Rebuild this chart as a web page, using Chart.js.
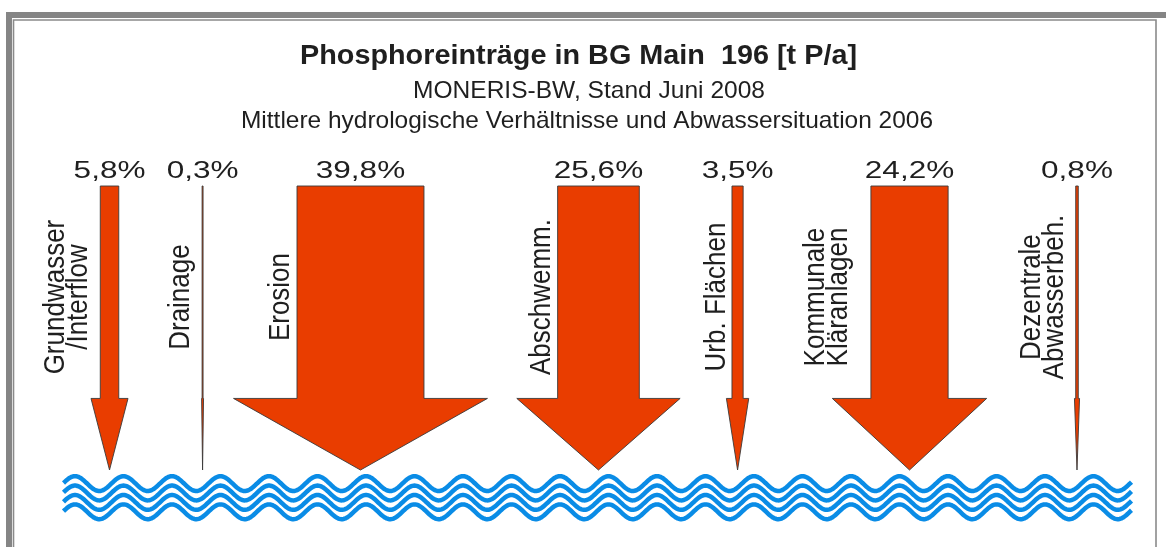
<!DOCTYPE html>
<html>
<head>
<meta charset="utf-8">
<script src="https://cdn.jsdelivr.net/npm/chart.js@4.4.1/dist/chart.umd.min.js"></script>
<style>
html,body{margin:0;padding:0;background:#fff;overflow:hidden}
#wrap{width:1166px;height:547px;position:relative}
</style>
</head>
<body>
<div id="wrap"><canvas id="c" width="1166" height="547"></canvas></div>
<script>
// ---------------- data ----------------
const categories = [
  ["Grundwasser", "/Interflow"],
  ["Drainage"],
  ["Erosion"],
  ["Abschwemm."],
  ["Urb. Flächen"],
  ["Kommunale", "Kläranlagen"],
  ["Dezentrale", "Abwasserbeh."]
];
const shares = [5.8, 0.3, 39.8, 25.6, 3.5, 24.2, 0.8];            // % of total P load
const shareLabels = ["5,8%", "0,3%", "39,8%", "25,6%", "3,5%", "24,2%", "0,8%"];
const titleText = "Phosphoreinträge in BG Main  196 [t P/a]";
const subtitleLines = [
  "MONERIS-BW, Stand Juni 2008",
  "Mittlere hydrologische Verhältnisse und Abwassersituation 2006"
];

// ---------------- layout (not data) ----------------
// x axis: 1 unit = width of 1 % share; arrow centres in those units
const arrowPos = [34.33, 63.5, 113.0, 187.6, 231.2, 285.1, 337.6];
const labelGap = [13.5, 13, 7.7, 7.7, 7.4, 24, 13];   // px between label baseline and shaft
const HEAD_START = 25.2;   // y units (0 = water, 100 = source)
const HEAD_FACTOR = 2;     // head width / shaft width
const FONT = '"Liberation Sans", Arial, Helvetica, sans-serif';
const TEXT = '#1f1f1f';
const ARROW_FILL = '#E93D00';
const ARROW_LINE = '#3a3a3a';
const WATER = '#0A8CE6';
const FRAME = '#858585';

function fitText(ctx, txt, x, y, width, font, align) {
  ctx.save();
  ctx.font = font;
  const w = ctx.measureText(txt).width;
  const sx = width / w;
  ctx.translate(x, y);
  ctx.scale(sx, 1);
  ctx.textAlign = align || 'left';
  ctx.textBaseline = 'alphabetic';
  ctx.fillText(txt, 0, 0);
  ctx.restore();
}

const framePlugin = {
  id: 'frame',
  beforeDraw(chart) {
    const ctx = chart.ctx;
    ctx.save();
    ctx.fillStyle = '#fff';
    ctx.fillRect(0, 0, chart.width, chart.height);
    ctx.fillStyle = FRAME;
    ctx.fillRect(6, 12, chart.width - 6, 6);
    ctx.fillRect(6, 12, 6, chart.height - 12);
    ctx.strokeStyle = '#8a8a8a';
    ctx.lineWidth = 1.6;
    ctx.beginPath();
    ctx.moveTo(13.5, chart.height);
    ctx.lineTo(13.5, 20);
    ctx.lineTo(1156, 20);
    ctx.lineTo(1156, chart.height);
    ctx.stroke();
    ctx.restore();
  }
};

const waterPlugin = {
  id: 'water',
  beforeDatasetsDraw(chart) {
    const ctx = chart.ctx, area = chart.chartArea;
    const x0 = 63.5, x1 = 1131.5, period = 48.5, peakX = 75, amp = 7.4, gap = 9.4;
    const mid = area.bottom + 13.6;
    ctx.save();
    ctx.strokeStyle = WATER;
    ctx.lineWidth = 4.5;
    ctx.lineCap = 'butt';
    for (let k = 0; k < 4; k++) {
      ctx.beginPath();
      for (let px = x0; px <= x1; px += 1) {
        const py = mid + k * gap - amp * Math.cos(2 * Math.PI * (px - peakX) / period);
        if (px === x0) ctx.moveTo(px, py); else ctx.lineTo(px, py);
      }
      ctx.stroke();
    }
    ctx.restore();
  }
};

const arrowPlugin = {
  id: 'arrows',
  afterDatasetsDraw(chart) {
    const ctx = chart.ctx;
    const xs = chart.scales.x, ys = chart.scales.y;
    const pts = chart.data.datasets[0].data;
    ctx.save();
    pts.forEach((p, i) => {
      const v = p.share, c = p.x;
      const xl = xs.getPixelForValue(c - v / 2), xr = xs.getPixelForValue(c + v / 2);
      const hl = xs.getPixelForValue(c - v * HEAD_FACTOR / 2), hr = xs.getPixelForValue(c + v * HEAD_FACTOR / 2);
      const xc = xs.getPixelForValue(c);
      const yt = ys.getPixelForValue(p.y), yh = ys.getPixelForValue(HEAD_START), yb = ys.getPixelForValue(0);
      ctx.beginPath();
      ctx.moveTo(xl, yt); ctx.lineTo(xr, yt); ctx.lineTo(xr, yh); ctx.lineTo(hr, yh);
      ctx.lineTo(xc, yb); ctx.lineTo(hl, yh); ctx.lineTo(xl, yh); ctx.closePath();
      ctx.fillStyle = ARROW_FILL;
      ctx.fill();
      ctx.strokeStyle = ARROW_LINE;
      ctx.lineWidth = 0.9;
      ctx.lineJoin = 'miter';
      ctx.stroke();

      // percentage label
      ctx.fillStyle = TEXT;
      ctx.save();
      ctx.font = '23px ' + FONT;
      ctx.translate(xc, yt - 8.5);
      ctx.scale(1.37, 1);
      ctx.textAlign = 'center';
      ctx.textBaseline = 'alphabetic';
      ctx.fillText(shareLabels[i], 0, 0);
      ctx.restore();

      // rotated category label
      const lines = categories[i];
      const bx = xl - labelGap[i];
      const cy = ys.getPixelForValue(60.9);
      ctx.save();
      ctx.translate(bx, cy);
      ctx.rotate(-Math.PI / 2);
      ctx.scale(1, 1.1);
      ctx.font = '26px ' + FONT;
      ctx.textAlign = 'center';
      ctx.textBaseline = 'alphabetic';
      const lh = 22.5 / 1.1;
      lines.forEach((t, j) => {
        ctx.fillText(t, 0, -(lines.length - 1 - j) * lh);
      });
      ctx.restore();
    });
    ctx.restore();
  },
  afterDraw(chart) {
    const ctx = chart.ctx;
    ctx.save();
    ctx.fillStyle = TEXT;
    fitText(ctx, titleText, 300, 64.3, 557, 'bold 28px ' + FONT);
    fitText(ctx, subtitleLines[0], 413, 98.3, 352, '24px ' + FONT);
    fitText(ctx, subtitleLines[1], 241, 128.3, 692, '24px ' + FONT);
    ctx.restore();
  }
};

new Chart(document.getElementById('c').getContext('2d'), {
  type: 'scatter',
  data: {
    labels: categories.map(c => c.join(' ')),
    datasets: [{
      label: 'P-Eintrag',
      data: shares.map((s, i) => ({ x: arrowPos[i], y: 100, share: s })),
      pointRadius: 0,
      showLine: false
    }]
  },
  options: {
    responsive: false,
    animation: false,
    events: [],
    layout: { padding: { top: 186, bottom: 77, left: 0, right: 0 } },
    scales: {
      x: { type: 'linear', display: false, min: 0, max: 365.5 },
      y: { type: 'linear', display: false, min: 0, max: 100 }
    },
    plugins: { legend: { display: false }, tooltip: { enabled: false }, title: { display: false } }
  },
  plugins: [framePlugin, waterPlugin, arrowPlugin]
});
</script>
</body>
</html>
